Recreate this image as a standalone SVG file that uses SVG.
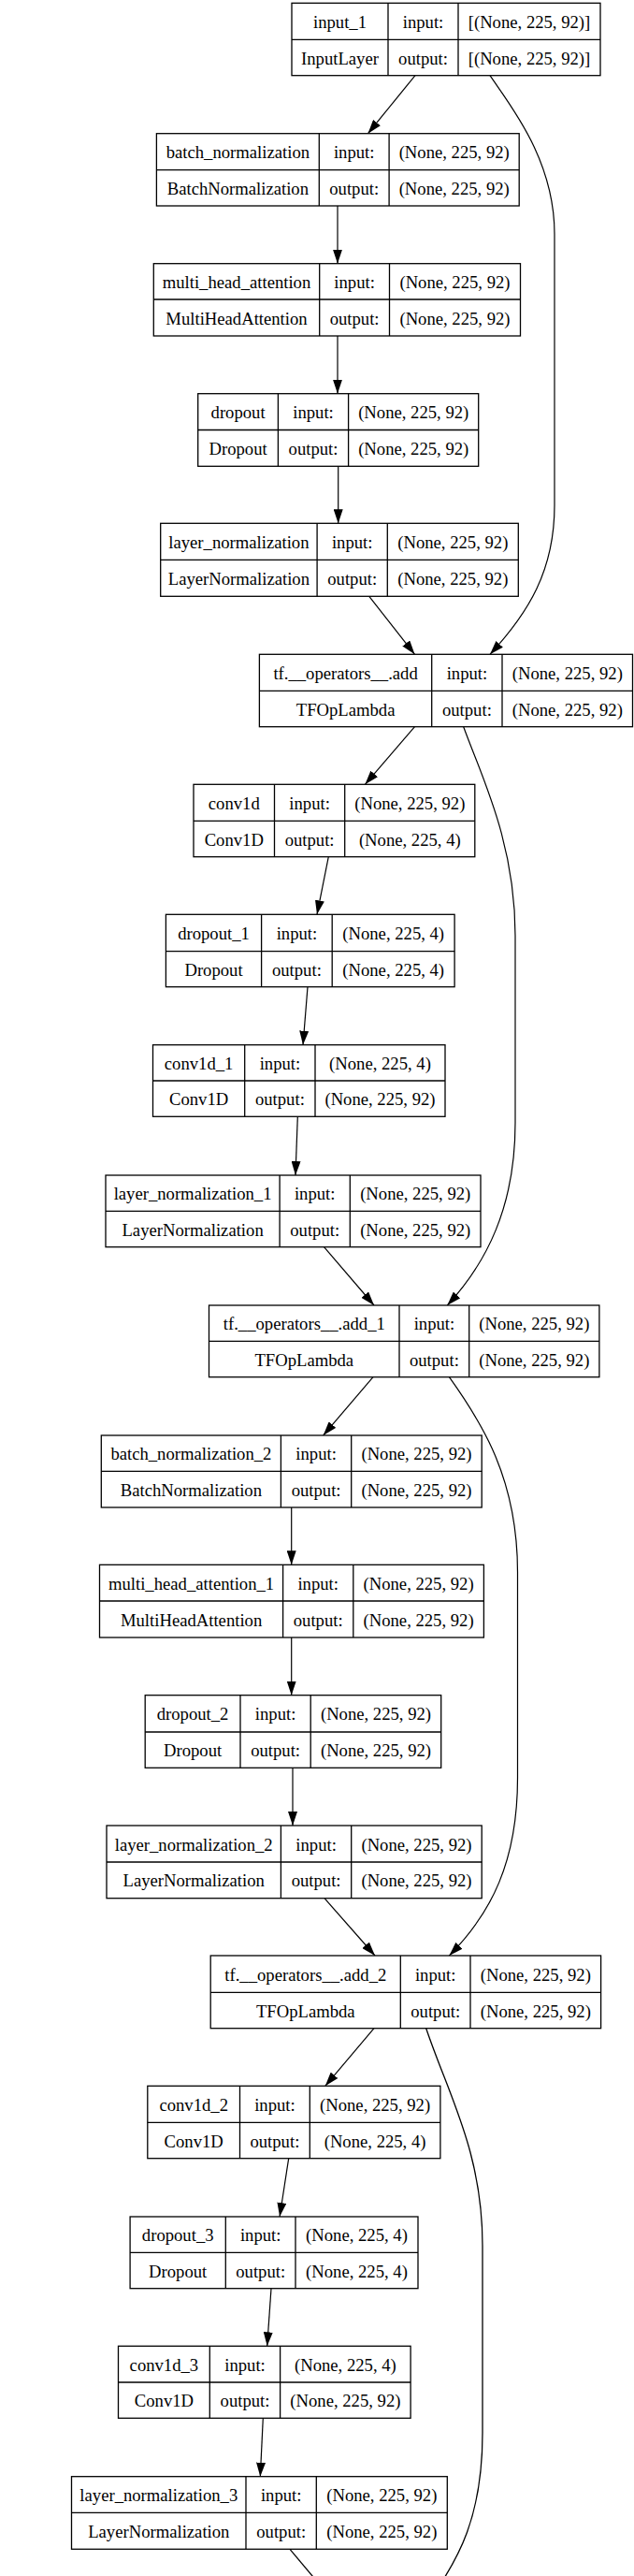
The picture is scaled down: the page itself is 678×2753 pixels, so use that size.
<svg xmlns="http://www.w3.org/2000/svg" width="678" height="2753" viewBox="0 0 678 2753">
<style>
.b{fill:#fff;stroke:#000;stroke-width:1.3}
.g{fill:none;stroke:#000;stroke-width:1.3}
text{font-family:"Liberation Serif","Times New Roman",serif;font-size:18.67px;fill:#000;text-anchor:middle}
.e{fill:none;stroke:#000;stroke-width:1.2;marker-end:url(#ah)}
</style>
<defs>
<marker id="ah" markerWidth="15" markerHeight="10" refX="15" refY="5" orient="auto" markerUnits="userSpaceOnUse"><path d="M0,0 L15,5 L0,10 z" fill="#000"/></marker>
</defs>
<rect width="678" height="2753" fill="#fff"/>
<g id="connectors">
<path class="e" d="M444,80.7 L393.5,142.7"/>
<path class="e" d="M524,80.7 C545,112 593,170 593,250 L593,540 C593,610 565,655 524,699.3"/>
<path class="e" d="M361,220 L361,281.7"/>
<path class="e" d="M361,359 L361,420.7"/>
<path class="e" d="M361.7,498.3 L361.7,559.3"/>
<path class="e" d="M394.8,637.3 L443.5,699.3"/>
<path class="e" d="M443.5,776.7 L390.4,838.3"/>
<path class="e" d="M495.7,776.7 C515,830 551,900 551,1000 L551,1200 C551,1290 520,1350 478.3,1395"/>
<path class="e" d="M351.3,915.7 L339,977.3"/>
<path class="e" d="M329,1054.7 L324,1116.7"/>
<path class="e" d="M318.3,1193.3 L316,1256"/>
<path class="e" d="M346.5,1332.7 L400,1395"/>
<path class="e" d="M399,1471.7 L345.7,1534"/>
<path class="e" d="M480.4,1471.7 C515,1520 553.5,1580 553.5,1680 L553.5,1900 C553.5,1990 525,2045 480.4,2090"/>
<path class="e" d="M311.7,1611 L311.7,1672.3"/>
<path class="e" d="M311.7,1750 L311.7,1811.7"/>
<path class="e" d="M313,1889.3 L313,1951"/>
<path class="e" d="M347,2028.7 L401,2090"/>
<path class="e" d="M400,2167.7 L347.8,2229.3"/>
<path class="g" d="M455.7,2167.7 C480,2240 516,2300 516,2400 L516,2600 C516,2690 490,2735 462,2775"/>
<path class="e" d="M308.7,2306.7 L299.1,2369"/>
<path class="e" d="M290,2445.7 L285.7,2507.3"/>
<path class="e" d="M281.3,2584.3 L278.3,2646.7"/>
<path class="g" d="M310,2724.3 L350,2772"/>
</g>
<g id="input_1">
<rect class="b" x="312" y="3.3" width="330" height="77.4"/>
<path class="g" d="M312,42.3 H642 M415,3.3 V80.7 M490,3.3 V80.7"/>
<text x="363.5" y="29.8">input_1</text><text x="452.5" y="29.8">input:</text><text x="566" y="29.8">[(None, 225, 92)]</text>
<text x="363.5" y="68.5">InputLayer</text><text x="452.5" y="68.5">output:</text><text x="566" y="68.5">[(None, 225, 92)]</text>
</g>
<g id="batch_normalization">
<rect class="b" x="167.4" y="142.7" width="387.8" height="77.3"/>
<path class="g" d="M167.4,181.7 H555.2 M341.3,142.7 V220 M416.1,142.7 V220"/>
<text x="254.4" y="169.2">batch_normalization</text><text x="378.7" y="169.2">input:</text><text x="485.7" y="169.2">(None, 225, 92)</text>
<text x="254.4" y="207.9">BatchNormalization</text><text x="378.7" y="207.9">output:</text><text x="485.7" y="207.9">(None, 225, 92)</text>
</g>
<g id="multi_head_attention">
<rect class="b" x="164.3" y="281.7" width="392.2" height="77.3"/>
<path class="g" d="M164.3,320 H556.5 M341.7,281.7 V359 M416.5,281.7 V359"/>
<text x="253" y="307.9">multi_head_attention</text><text x="379.1" y="307.9">input:</text><text x="486.5" y="307.9">(None, 225, 92)</text>
<text x="253" y="346.5">MultiHeadAttention</text><text x="379.1" y="346.5">output:</text><text x="486.5" y="346.5">(None, 225, 92)</text>
</g>
<g id="dropout">
<rect class="b" x="211.7" y="420.7" width="300" height="77.6"/>
<path class="g" d="M211.7,459.5 H511.7 M297.4,420.7 V498.3 M372.6,420.7 V498.3"/>
<text x="254.6" y="447.1">dropout</text><text x="335" y="447.1">input:</text><text x="442.2" y="447.1">(None, 225, 92)</text>
<text x="254.6" y="485.9">Dropout</text><text x="335" y="485.9">output:</text><text x="442.2" y="485.9">(None, 225, 92)</text>
</g>
<g id="layer_normalization">
<rect class="b" x="171.7" y="559.3" width="382.6" height="78"/>
<path class="g" d="M171.7,598.3 H554.3 M339.1,559.3 V637.3 M414.3,559.3 V637.3"/>
<text x="255.4" y="585.8">layer_normalization</text><text x="376.7" y="585.8">input:</text><text x="484.3" y="585.8">(None, 225, 92)</text>
<text x="255.4" y="624.8">LayerNormalization</text><text x="376.7" y="624.8">output:</text><text x="484.3" y="624.8">(None, 225, 92)</text>
</g>
<g id="tf_operators_add">
<rect class="b" x="277.4" y="699.3" width="399.1" height="77.4"/>
<path class="g" d="M277.4,738.3 H676.5 M461.7,699.3 V776.7 M537,699.3 V776.7"/>
<text x="369.6" y="725.8">tf.__operators__.add</text><text x="499.4" y="725.8">input:</text><text x="606.8" y="725.8">(None, 225, 92)</text>
<text x="369.6" y="764.5">TFOpLambda</text><text x="499.4" y="764.5">output:</text><text x="606.8" y="764.5">(None, 225, 92)</text>
</g>
<g id="conv1d">
<rect class="b" x="207" y="838.3" width="300.8" height="77.4"/>
<path class="g" d="M207,877.3 H507.8 M293.5,838.3 V915.7 M368.7,838.3 V915.7"/>
<text x="250.3" y="864.8">conv1d</text><text x="331.1" y="864.8">input:</text><text x="438.3" y="864.8">(None, 225, 92)</text>
<text x="250.3" y="903.5">Conv1D</text><text x="331.1" y="903.5">output:</text><text x="438.3" y="903.5">(None, 225, 4)</text>
</g>
<g id="dropout_1">
<rect class="b" x="177.4" y="977.3" width="308.7" height="77.4"/>
<path class="g" d="M177.4,1016.7 H486.1 M279.6,977.3 V1054.7 M355.2,977.3 V1054.7"/>
<text x="228.5" y="1004">dropout_1</text><text x="317.4" y="1004">input:</text><text x="420.7" y="1004">(None, 225, 4)</text>
<text x="228.5" y="1042.7">Dropout</text><text x="317.4" y="1042.7">output:</text><text x="420.7" y="1042.7">(None, 225, 4)</text>
</g>
<g id="conv1d_1">
<rect class="b" x="163.5" y="1116.7" width="312.5" height="76.6"/>
<path class="g" d="M163.5,1155 H476 M261.7,1116.7 V1193.3 M337,1116.7 V1193.3"/>
<text x="212.6" y="1142.9">conv1d_1</text><text x="299.4" y="1142.9">input:</text><text x="406.5" y="1142.9">(None, 225, 4)</text>
<text x="212.6" y="1181.2">Conv1D</text><text x="299.4" y="1181.2">output:</text><text x="406.5" y="1181.2">(None, 225, 92)</text>
</g>
<g id="layer_normalization_1">
<rect class="b" x="113" y="1256" width="401" height="76.7"/>
<path class="g" d="M113,1294.3 H514 M299.1,1256 V1332.7 M374.3,1256 V1332.7"/>
<text x="206.1" y="1282.2">layer_normalization_1</text><text x="336.7" y="1282.2">input:</text><text x="444.2" y="1282.2">(None, 225, 92)</text>
<text x="206.1" y="1320.5">LayerNormalization</text><text x="336.7" y="1320.5">output:</text><text x="444.2" y="1320.5">(None, 225, 92)</text>
</g>
<g id="tf_operators_add_1">
<rect class="b" x="223.5" y="1395" width="417.4" height="76.7"/>
<path class="g" d="M223.5,1433.3 H640.9 M427,1395 V1471.7 M501.7,1395 V1471.7"/>
<text x="325.3" y="1421.2">tf.__operators__.add_1</text><text x="464.4" y="1421.2">input:</text><text x="571.3" y="1421.2">(None, 225, 92)</text>
<text x="325.3" y="1459.5">TFOpLambda</text><text x="464.4" y="1459.5">output:</text><text x="571.3" y="1459.5">(None, 225, 92)</text>
</g>
<g id="batch_normalization_2">
<rect class="b" x="108.3" y="1534" width="406.9" height="77"/>
<path class="g" d="M108.3,1572.3 H515.2 M300.4,1534 V1611 M375.7,1534 V1611"/>
<text x="204.4" y="1560.2">batch_normalization_2</text><text x="338.1" y="1560.2">input:</text><text x="445.5" y="1560.2">(None, 225, 92)</text>
<text x="204.4" y="1598.7">BatchNormalization</text><text x="338.1" y="1598.7">output:</text><text x="445.5" y="1598.7">(None, 225, 92)</text>
</g>
<g id="multi_head_attention_1">
<rect class="b" x="106.5" y="1672.3" width="410.9" height="77.7"/>
<path class="g" d="M106.5,1711 H517.4 M302.6,1672.3 V1750 M377.8,1672.3 V1750"/>
<text x="204.6" y="1698.7">multi_head_attention_1</text><text x="340.2" y="1698.7">input:</text><text x="447.6" y="1698.7">(None, 225, 92)</text>
<text x="204.6" y="1737.5">MultiHeadAttention</text><text x="340.2" y="1737.5">output:</text><text x="447.6" y="1737.5">(None, 225, 92)</text>
</g>
<g id="dropout_2">
<rect class="b" x="155.2" y="1811.7" width="316.5" height="77.6"/>
<path class="g" d="M155.2,1851 H471.7 M257,1811.7 V1889.3 M332.2,1811.7 V1889.3"/>
<text x="206.1" y="1838.4">dropout_2</text><text x="294.6" y="1838.4">input:</text><text x="402" y="1838.4">(None, 225, 92)</text>
<text x="206.1" y="1877.2">Dropout</text><text x="294.6" y="1877.2">output:</text><text x="402" y="1877.2">(None, 225, 92)</text>
</g>
<g id="layer_normalization_2">
<rect class="b" x="114" y="1951" width="401.2" height="77.7"/>
<path class="g" d="M114,1990 H515.2 M300.4,1951 V2028.7 M375.7,1951 V2028.7"/>
<text x="207.2" y="1977.5">layer_normalization_2</text><text x="338.1" y="1977.5">input:</text><text x="445.5" y="1977.5">(None, 225, 92)</text>
<text x="207.2" y="2016.4">LayerNormalization</text><text x="338.1" y="2016.4">output:</text><text x="445.5" y="2016.4">(None, 225, 92)</text>
</g>
<g id="tf_operators_add_2">
<rect class="b" x="225.2" y="2090" width="417.4" height="77.7"/>
<path class="g" d="M225.2,2129.3 H642.6 M428.3,2090 V2167.7 M503,2090 V2167.7"/>
<text x="326.8" y="2116.7">tf.__operators__.add_2</text><text x="465.7" y="2116.7">input:</text><text x="572.8" y="2116.7">(None, 225, 92)</text>
<text x="326.8" y="2155.5">TFOpLambda</text><text x="465.7" y="2155.5">output:</text><text x="572.8" y="2155.5">(None, 225, 92)</text>
</g>
<g id="conv1d_2">
<rect class="b" x="157.8" y="2229.3" width="313.1" height="77.4"/>
<path class="g" d="M157.8,2268.3 H470.9 M256.5,2229.3 V2306.7 M331.3,2229.3 V2306.7"/>
<text x="207.2" y="2255.8">conv1d_2</text><text x="293.9" y="2255.8">input:</text><text x="401.1" y="2255.8">(None, 225, 92)</text>
<text x="207.2" y="2294.5">Conv1D</text><text x="293.9" y="2294.5">output:</text><text x="401.1" y="2294.5">(None, 225, 4)</text>
</g>
<g id="dropout_3">
<rect class="b" x="139.1" y="2369" width="307.9" height="76.7"/>
<path class="g" d="M139.1,2407.3 H447 M241.3,2369 V2445.7 M316,2369 V2445.7"/>
<text x="190.2" y="2395.2">dropout_3</text><text x="278.7" y="2395.2">input:</text><text x="381.5" y="2395.2">(None, 225, 4)</text>
<text x="190.2" y="2433.5">Dropout</text><text x="278.7" y="2433.5">output:</text><text x="381.5" y="2433.5">(None, 225, 4)</text>
</g>
<g id="conv1d_3">
<rect class="b" x="126.5" y="2507.3" width="312.6" height="77"/>
<path class="g" d="M126.5,2546 H439.1 M224.3,2507.3 V2584.3 M299.6,2507.3 V2584.3"/>
<text x="175.4" y="2533.7">conv1d_3</text><text x="262" y="2533.7">input:</text><text x="369.4" y="2533.7">(None, 225, 4)</text>
<text x="175.4" y="2572.2">Conv1D</text><text x="262" y="2572.2">output:</text><text x="369.4" y="2572.2">(None, 225, 92)</text>
</g>
<g id="layer_normalization_3">
<rect class="b" x="76.5" y="2646.7" width="401.8" height="77.6"/>
<path class="g" d="M76.5,2685.3 H478.3 M263,2646.7 V2724.3 M338.3,2646.7 V2724.3"/>
<text x="169.8" y="2673">layer_normalization_3</text><text x="300.7" y="2673">input:</text><text x="408.3" y="2673">(None, 225, 92)</text>
<text x="169.8" y="2711.8">LayerNormalization</text><text x="300.7" y="2711.8">output:</text><text x="408.3" y="2711.8">(None, 225, 92)</text>
</g>
</svg>
